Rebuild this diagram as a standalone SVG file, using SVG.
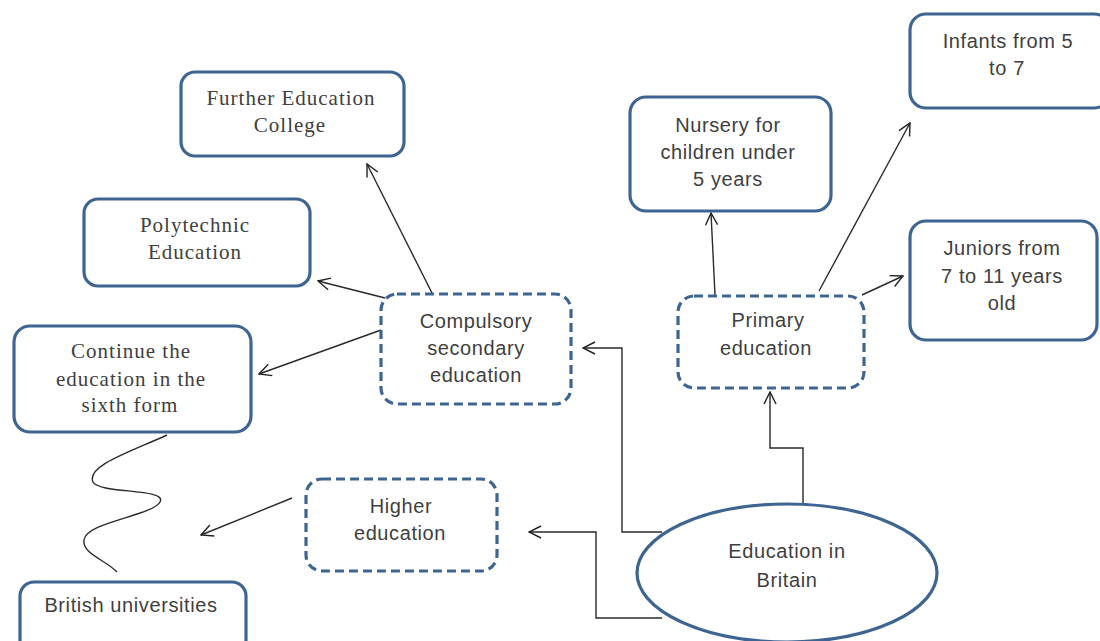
<svg xmlns="http://www.w3.org/2000/svg" width="1100" height="641" viewBox="0 0 1100 641">
<defs>
<marker id="arr" viewBox="0 0 14 14" refX="13" refY="7" markerWidth="14" markerHeight="14" markerUnits="userSpaceOnUse" orient="auto">
<path d="M1,1 L13,7 L1,13" fill="none" stroke="#222" stroke-width="1.4"/>
</marker>
<style>
.box{fill:#fff;stroke:#3e6592;stroke-width:3.2}
.dash{fill:#fff;stroke:#3e6592;stroke-width:3.2;stroke-dasharray:9 5}
.con{fill:none;stroke:#2a2a2a;stroke-width:1.4}
.sans{font-family:"Liberation Sans",Arial,sans-serif;font-size:20px;fill:#404040;text-anchor:middle;letter-spacing:0.6px}
.serif{font-family:"Liberation Serif","Times New Roman",serif;font-size:21px;fill:#404040;text-anchor:middle;letter-spacing:1px}
</style>
</defs>
<rect width="1100" height="641" fill="#fff"/>
<g id="connectors">
<path class="con" d="M803,503 V448 H770 V392" marker-end="url(#arr)"/>
<path class="con" d="M662,532 H622 V348 H583" marker-end="url(#arr)"/>
<path class="con" d="M662,618 H596 V532 H529" marker-end="url(#arr)"/>
<path class="con" d="M715,295 L711,213" marker-end="url(#arr)"/>
<path class="con" d="M819,291 L910,123" marker-end="url(#arr)"/>
<path class="con" d="M862,295 L903,276" marker-end="url(#arr)"/>
<path class="con" d="M432,293 L367,164" marker-end="url(#arr)"/>
<path class="con" d="M385,298 L318,281" marker-end="url(#arr)"/>
<path class="con" d="M381,330 L259,374" marker-end="url(#arr)"/>
<path class="con" d="M292,498 L201,535" marker-end="url(#arr)"/>
<path class="con" d="M167,435 C130,452 86,466 93,482 C99,494 168,488 160,502 C152,516 86,522 84,540 C82,554 106,560 117,572"/>
</g>
<g id="further">
<rect class="box" x="181" y="72" width="223" height="84" rx="14"/>
<text class="serif" x="291" y="105">Further Education</text>
<text class="serif" x="290" y="132">College</text>
</g>
<g id="polytechnic">
<rect class="box" x="84" y="199" width="226" height="87" rx="14"/>
<text class="serif" x="195" y="232">Polytechnic</text>
<text class="serif" x="195" y="259">Education</text>
</g>
<g id="sixthform">
<rect class="box" x="14" y="326" width="237" height="106" rx="16"/>
<text class="serif" x="131" y="358">Continue the</text>
<text class="serif" x="131" y="386">education in the</text>
<text class="serif" x="130" y="412">sixth form</text>
</g>
<g id="universities">
<rect class="box" x="20" y="582" width="226" height="72" rx="14"/>
<text class="sans" x="131" y="612">British universities</text>
</g>
<g id="compulsory">
<rect class="dash" x="381" y="294" width="190" height="110" rx="16"/>
<text class="sans" x="476" y="328">Compulsory</text>
<text class="sans" x="476" y="355">secondary</text>
<text class="sans" x="476" y="382">education</text>
</g>
<g id="higher">
<rect class="dash" x="306" y="479" width="191" height="92" rx="16"/>
<text class="sans" x="401" y="513">Higher</text>
<text class="sans" x="400" y="540">education</text>
</g>
<g id="primary">
<rect class="dash" x="678" y="296" width="186" height="92" rx="16"/>
<text class="sans" x="768" y="327">Primary</text>
<text class="sans" x="766" y="355">education</text>
</g>
<g id="nursery">
<rect class="box" x="630" y="97" width="201" height="114" rx="16"/>
<text class="sans" x="728" y="132">Nursery for</text>
<text class="sans" x="728" y="159">children under</text>
<text class="sans" x="728" y="186">5 years</text>
</g>
<g id="infants">
<rect class="box" x="910" y="14" width="200" height="94" rx="16"/>
<text class="sans" x="1008" y="48">Infants from 5</text>
<text class="sans" x="1007" y="75">to 7</text>
</g>
<g id="juniors">
<rect class="box" x="910" y="221" width="187" height="119" rx="16"/>
<text class="sans" x="1002" y="255">Juniors from</text>
<text class="sans" x="1002" y="283">7 to 11 years</text>
<text class="sans" x="1002" y="310">old</text>
</g>
<g id="britain">
<ellipse class="box" cx="787" cy="573" rx="150" ry="69"/>
<text class="sans" x="787" y="558">Education in</text>
<text class="sans" x="787" y="587">Britain</text>
</g>
</svg>
